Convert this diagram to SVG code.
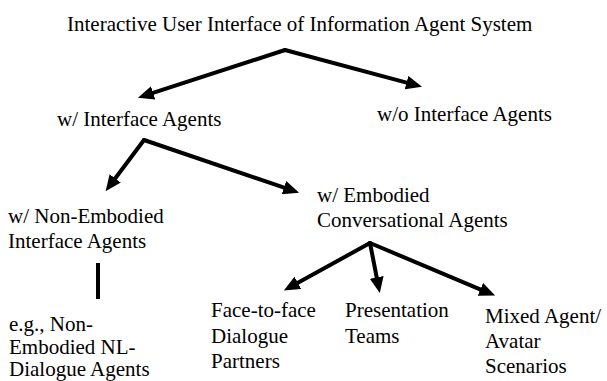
<svg xmlns="http://www.w3.org/2000/svg" width="607" height="381" viewBox="0 0 607 381">
<style>
text{font-family:"Liberation Serif","Times New Roman","DejaVu Serif",serif;font-size:21px;fill:#000}
.c{stroke:#000;stroke-width:4;fill:none;stroke-linecap:round;stroke-linejoin:round}
</style>
<defs>
<marker id="ah" viewBox="0 -7 16 14" refX="1" refY="0" markerWidth="16" markerHeight="14" markerUnits="userSpaceOnUse" orient="auto">
<path d="M0,-7 L16,0 L0,7 z" fill="#000"/>
</marker>
</defs>
<rect width="607" height="381" fill="#fff"/>
<g id="connectors">
<path class="c" d="M285,50 L152.2,93.1" marker-end="url(#ah)"/>
<path class="c" d="M285,50 L407.5,82.9" marker-end="url(#ah)"/>
<path class="c" d="M144,140 L114.6,179.2" marker-end="url(#ah)"/>
<path class="c" d="M144,140 L284.9,187.9" marker-end="url(#ah)"/>
<path class="c" d="M370,243 L297,283.3" marker-end="url(#ah)"/>
<path class="c" d="M370,243 L376.9,278.3" marker-end="url(#ah)"/>
<path class="c" d="M370,243 L481.3,289.8" marker-end="url(#ah)"/>
<line x1="98" y1="263" x2="98" y2="299" stroke="#000" stroke-width="4"/>
</g>
<g id="root"><text x="67" y="31">Interactive User Interface of Information Agent System</text></g>
<g id="with"><text x="57" y="126">w/ Interface Agents</text></g>
<g id="without"><text x="377" y="121">w/o Interface Agents</text></g>
<g id="nonembodied"><text x="8" y="223">w/ Non-Embodied</text><text x="8" y="248">Interface Agents</text></g>
<g id="embodied"><text x="317" y="202">w/ Embodied</text><text x="317" y="227">Conversational Agents</text></g>
<g id="example"><text x="9" y="331">e.g., Non-</text><text x="9" y="354">Embodied NL-</text><text x="9" y="376">Dialogue Agents</text></g>
<g id="facetoface"><text x="211" y="317">Face-to-face</text><text x="211" y="343">Dialogue</text><text x="211" y="368">Partners</text></g>
<g id="presentation"><text x="345" y="317">Presentation</text><text x="345" y="343">Teams</text></g>
<g id="mixed"><text x="485" y="323">Mixed Agent/</text><text x="485" y="348">Avatar</text><text x="485" y="373">Scenarios</text></g>
</svg>
